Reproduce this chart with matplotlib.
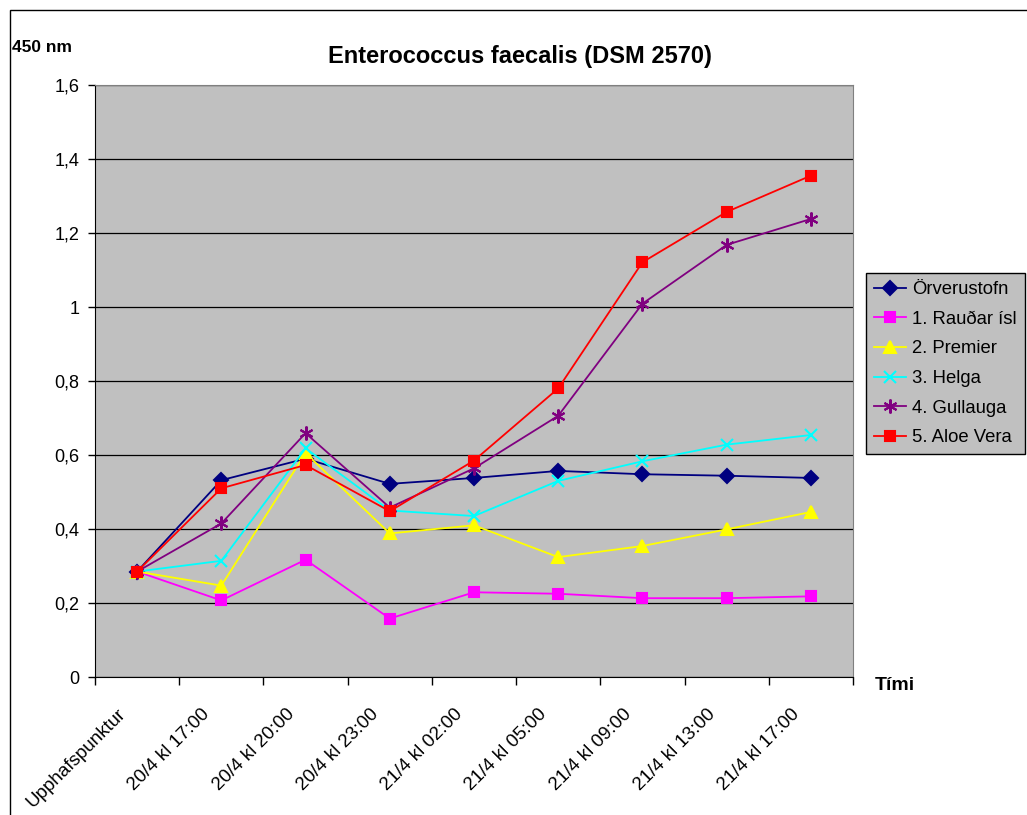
import numpy as np
import matplotlib
matplotlib.use("Agg")
import matplotlib.pyplot as plt
from matplotlib.patches import Rectangle

plt.rcParams['font.family'] = ['Liberation Sans', 'DejaVu Sans']

# categories (time points)
timar = ['Upphafspunktur', '20/4 kl 17:00', '20/4 kl 20:00', '20/4 kl 23:00',
         '21/4 kl 02:00', '21/4 kl 05:00', '21/4 kl 09:00', '21/4 kl 13:00',
         '21/4 kl 17:00']

# absorbance values at 450 nm
orverustofn = [0.285, 0.532, 0.590, 0.522, 0.538, 0.557, 0.548, 0.544, 0.538]
raudar_isl = [0.285, 0.207, 0.317, 0.158, 0.229, 0.225, 0.213, 0.213, 0.218]
premier = [0.285, 0.247, 0.605, 0.388, 0.410, 0.324, 0.354, 0.399, 0.446]
helga = [0.285, 0.314, 0.618, 0.450, 0.435, 0.530, 0.583, 0.628, 0.654]
gullauga = [0.285, 0.415, 0.659, 0.458, 0.564, 0.706, 1.009, 1.168, 1.238]
aloe_vera = [0.285, 0.510, 0.573, 0.448, 0.585, 0.780, 1.121, 1.257, 1.355]

nofn = ['Örverustofn', '1. Rauðar ísl', '2. Premier', '3. Helga',
        '4. Gullauga', '5. Aloe Vera']

y_ticks = [0, 0.2, 0.4, 0.6, 0.8, 1.0, 1.2, 1.4, 1.6]
y_labels = ['0', '0,2', '0,4', '0,6', '0,8', '1', '1,2', '1,4', '1,6']

fig = plt.figure(figsize=(10.27, 8.15), dpi=100)
ax = fig.add_axes([95 / 1027, 1 - 677 / 815, 758 / 1027, 592 / 815])
ax.set_facecolor('#C0C0C0')

x = np.arange(len(timar))

# style for each series (colour, marker, size)
stilar = [('#000080', 'D', 7), ('#FF00FF', 's', 7), ('#FFFF00', '^', 8),
          ('#00FFFF', 'x', 8), ('#800080', (6, 2, 0), 10), ('#FF0000', 's', 7)]
gogn = [orverustofn, raudar_isl, premier, helga, gullauga, aloe_vera]

for y, nafn, (lit, mk, ms) in zip(gogn, nofn, stilar):
    ax.plot(x, y, color=lit, marker=mk, markersize=ms, linewidth=1.3,
            markeredgewidth=1.5, label=nafn, clip_on=False, zorder=3)

ax.set_xlim(-0.5, len(timar) - 0.5)
ax.set_ylim(0, 1.6)

# grid lines
ax.set_yticks(y_ticks)
ax.set_yticklabels(y_labels, fontsize=13)
ax.grid(axis='y', color='black', linewidth=0.9)
ax.set_axisbelow(True)

# category labels: rotated text under each category, a bit to the left
ax.set_xticks(x)
ax.set_xticklabels([])
for xi, t in zip(x, timar):
    ax.annotate(t, xy=(xi, 0), xycoords=('data', 'axes fraction'),
                xytext=(-10, -25), textcoords='offset points',
                rotation=45, ha='right', va='center',
                rotation_mode='anchor', fontsize=13.5)
ax.set_xticks(np.arange(-0.5, len(timar), 1), minor=True)
ax.tick_params(axis='x', which='major', length=0)
ax.tick_params(axis='x', which='minor', length=6, width=1, direction='out')
ax.tick_params(axis='y', length=5, width=1, direction='out', pad=6)

for s in ['top', 'right']:
    ax.spines[s].set_color('#808080')
for s in ['left', 'bottom']:
    ax.spines[s].set_color('black')

# texts
fig.text(520 / 1027, 1 - 57 / 815, 'Enterococcus faecalis (DSM 2570)',
         ha='center', va='center', fontsize=17, fontweight='bold')
fig.text(12 / 1027, 1 - 47 / 815, '450 nm', ha='left', va='center',
         fontsize=12.5, fontweight='bold')
fig.text(875 / 1027, 1 - 686 / 815, 'Tími', ha='left', va='center',
         fontsize=14, fontweight='bold')

# legend
leg = ax.legend(loc='upper left', bbox_to_anchor=(866 / 1027, 1 - 273 / 815),
                bbox_transform=fig.transFigure, fontsize=13.3, frameon=True,
                fancybox=False, handlelength=1.7, borderpad=0.45,
                labelspacing=0.68, handletextpad=0.35, borderaxespad=0)
leg.get_frame().set_facecolor('#C0C0C0')
leg.get_frame().set_edgecolor('black')
leg.get_frame().set_linewidth(1)
leg.get_frame().set_alpha(1)

# outer frame of the chart
fig.patches.append(Rectangle((10 / 1027, -0.05), 1.1, 1 - 10 / 815 + 0.05,
                             transform=fig.transFigure, fill=False,
                             edgecolor='black', linewidth=1))

plt.savefig('out.png', dpi=100)
